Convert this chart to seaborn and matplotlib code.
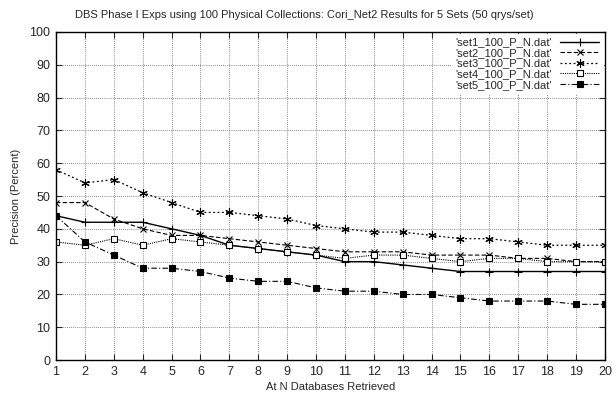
import pandas as pd
import matplotlib
matplotlib.use("Agg")
import matplotlib.pyplot as plt
import seaborn as sns

# ---------------- data ----------------
n_dbs = list(range(1, 21))
set1 = [44, 42, 42, 42, 40, 38, 35, 34, 33, 32, 30, 30, 29, 28, 27, 27, 27, 27, 27, 27]
set2 = [48, 48, 43, 40, 38, 38, 37, 36, 35, 34, 33, 33, 33, 32, 32, 32, 31, 31, 30, 30]
set3 = [58, 54, 55, 51, 48, 45, 45, 44, 43, 41, 40, 39, 39, 38, 37, 37, 36, 35, 35, 35]
set4 = [36, 35, 37, 35, 37, 36, 35, 34, 33, 32, 31, 32, 32, 31, 30, 31, 31, 30, 30, 30]
set5 = [44, 36, 32, 28, 28, 27, 25, 24, 24, 22, 21, 21, 20, 20, 19, 18, 18, 18, 17, 17]
names = ["'set1_100_P_N.dat'", "'set2_100_P_N.dat'", "'set3_100_P_N.dat'",
         "'set4_100_P_N.dat'", "'set5_100_P_N.dat'"]

df = pd.DataFrame({"N": n_dbs * 5,
                   "Precision": set1 + set2 + set3 + set4 + set5,
                   "Set": [nm for nm in names for _ in n_dbs]})

# ---------------- style ----------------
sns.set_style("ticks")
plt.rcParams["font.family"] = ["Liberation Sans", "DejaVu Sans"]
plt.rcParams["font.size"] = 8

styles = {
    names[0]: dict(ls="-", marker="+", ms=6, mfc="black", lw=1.0),
    names[1]: dict(ls=(0, (4, 2)), marker="x", ms=5, mfc="black", lw=0.8),
    names[2]: dict(ls=(0, (1.5, 2)), marker=(6, 2, 0), ms=6, mfc="black", lw=0.9),
    names[3]: dict(ls=(0, (1, 1)), marker="s", ms=5, mfc="white", lw=0.8),
    names[4]: dict(ls=(0, (5, 2, 1, 2)), marker="s", ms=5, mfc="black", lw=0.8),
}

fig = plt.figure(figsize=(6.16, 3.94), dpi=100)
ax = fig.add_axes([0.091, 0.086, 0.891, 0.833])

for nm in names:
    st = styles[nm]
    sns.lineplot(data=df[df["Set"] == nm], x="N", y="Precision", ax=ax,
                 color="black", linestyle=st["ls"], marker=st["marker"],
                 markersize=st["ms"], markerfacecolor=st["mfc"],
                 markeredgecolor="black", markeredgewidth=0.8,
                 linewidth=st["lw"], label=nm)

ax.set_xlim(1, 20)
ax.set_ylim(0, 100)
ax.set_xticks(n_dbs)
ax.set_yticks(range(0, 101, 10))
ax.grid(True, color="#666666", linestyle=(0, (1, 1.5)), linewidth=0.6)
ax.tick_params(direction="in", length=4, width=0.8, labelsize=9, pad=4,
               top=True, right=True)
for s in ax.spines.values():
    s.set_linewidth(1.0)
    s.set_color("black")

ax.set_xlabel("At N Databases Retrieved", fontsize=8, labelpad=3)
ax.set_ylabel("Precision (Percent)", fontsize=8, labelpad=6)
ax.set_title("DBS Phase I Exps using 100 Physical Collections: Cori_Net2 Results for 5 Sets (50 qrys/set)",
             fontsize=8, pad=10, x=0.452)

leg = ax.legend(loc="upper right", markerfirst=False, frameon=True, fancybox=False,
                fontsize=8, handlelength=3.5, labelspacing=0.05, borderpad=0.3,
                handletextpad=0.8, borderaxespad=0.2)
leg.get_frame().set_edgecolor("white")
leg.get_frame().set_facecolor("white")
leg.get_frame().set_alpha(1)
for t in leg.get_texts():
    t.set_ha("right")

fig.savefig("out.png", dpi=100)
